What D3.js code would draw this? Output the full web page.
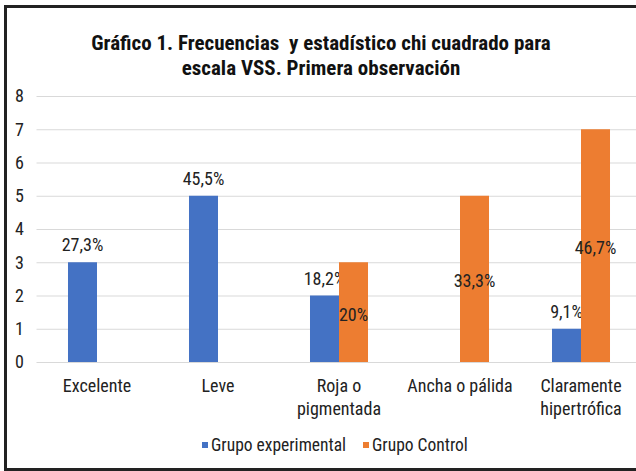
<!DOCTYPE html>
<html>
<head>
<meta charset="utf-8">
<script src="https://cdn.jsdelivr.net/npm/d3@7"></script>
<style>
  body { margin: 0; background: #fff; }
  svg { display: block; font-family: "Liberation Sans Narrow", "Arial Narrow", "Roboto Condensed", sans-serif; }
  .grid line { stroke: #d9d9d9; stroke-width: 1; }
  .tick-label { font-size: 18px; fill: #222; }
  .bar-label { font-size: 18px; fill: #222; }
  .legend-label { font-size: 17.5px; fill: #222; }
</style>
</head>
<body>
<svg id="chart"></svg>
<script>
// data
const categories = [['Excelente'], ['Leve'], ['Roja o', 'pigmentada'], ['Ancha o pálida'], ['Claramente', 'hipertrófica']];
const seriesNames = ['Grupo experimental', 'Grupo Control'];
const experimental = [3, 5, 2, 0, 1];
const control = [0, 0, 3, 5, 7];
const experimentalLabels = ['27,3%', '45,5%', '18,2%', '', '9,1%'];
const controlLabels = ['', '', '20%', '33,3%', '46,7%'];
const yTicks = [0, 1, 2, 3, 4, 5, 6, 7, 8];
const colors = ['#4472C4', '#ED7D31'];

const width = 636, height = 471;
const plot = { left: 36.5, right: 641.5, top: 96, bottom: 362 };

const svg = d3.select('#chart')
    .attr('width', width)
    .attr('height', height);

// chart border (runs off the right edge like the source)
svg.append('rect')
    .attr('x', 5.5)
    .attr('y', 6.5)
    .attr('width', 700)
    .attr('height', 463)
    .attr('fill', 'none')
    .attr('stroke', '#222')
    .attr('stroke-width', 3);

// title
const title = svg.append('text')
    .attr('text-anchor', 'middle')
    .style('font-weight', 'bold')
    .style('font-size', '21px')
    .style('white-space', 'pre')
    .attr('fill', '#111');
title.append('tspan').attr('x', 321).attr('y', 50).text('Gráfico 1. Frecuencias  y estadístico chi cuadrado para');
title.append('tspan').attr('x', 321).attr('y', 75).text('escala VSS. Primera observación');

const catKeys = categories.map(d => d.join(' '));

const xScale = d3.scaleBand()
    .domain(catKeys)
    .range([plot.left, plot.right]);

const xInner = d3.scaleBand()
    .domain(seriesNames)
    .range([0, xScale.bandwidth()])
    .paddingInner(0)
    .paddingOuter(1.086);

const yScale = d3.scaleLinear()
    .domain([0, 8])
    .range([plot.bottom, plot.top]);

// gridlines
svg.append('g')
    .attr('class', 'grid')
    .selectAll('line')
    .data(yTicks)
    .join('line')
    .attr('x1', plot.left)
    .attr('x2', width)
    .attr('y1', d => yScale(d) + 0.5)
    .attr('y2', d => yScale(d) + 0.5);

// y labels
const yAxis = d3.axisLeft(yScale).tickValues(yTicks).tickSize(0).tickPadding(0);
const yAxisG = svg.append('g')
    .attr('transform', 'translate(24,0)')
    .call(yAxis)
    .attr('font-family', null)
    .attr('font-size', null);
yAxisG.select('.domain').remove();
yAxisG.selectAll('text')
    .attr('class', 'tick-label')
    .attr('fill', '#222');

// x labels
const xLab = svg.append('g').selectAll('text')
    .data(categories)
    .join('text')
    .attr('class', 'tick-label')
    .attr('text-anchor', 'middle')
    .attr('x', (d, i) => xScale(catKeys[i]) + xScale.bandwidth() / 2)
    .attr('y', 392);
xLab.selectAll('tspan')
    .data(d => d)
    .join('tspan')
    .attr('x', function() { return d3.select(this.parentNode).attr('x'); })
    .attr('dy', (d, i) => i === 0 ? 0 : 23)
    .text(d => d);

// bars
const seriesData = [experimental, control];
const seriesLabels = [experimentalLabels, controlLabels];

seriesNames.forEach((name, s) => {
  const g = svg.append('g');
  const rows = catKeys.map((c, i) => ({ cat: c, v: seriesData[s][i], label: seriesLabels[s][i] }));
  g.selectAll('rect')
    .data(rows.filter(d => d.v > 0))
    .join('rect')
    .attr('x', d => xScale(d.cat) + xInner(name))
    .attr('width', xInner.bandwidth())
    .attr('y', d => yScale(d.v))
    .attr('height', d => yScale(0) - yScale(d.v))
    .attr('fill', colors[s]);

  g.selectAll('text')
    .data(rows.filter(d => d.label))
    .join('text')
    .attr('class', 'bar-label')
    .attr('text-anchor', 'middle')
    .attr('x', d => xScale(d.cat) + xInner(name) + xInner.bandwidth() / 2)
    // experimental labels sit above the bar, control labels in the middle
    .attr('y', d => s === 0 ? yScale(d.v) - 11 : yScale(d.v / 2) + 8.5)
    .text(d => d.label);
});

// legend
const legend = svg.append('g');
const legendX = [202, 363];
seriesNames.forEach((name, s) => {
  legend.append('rect')
    .attr('x', legendX[s])
    .attr('y', 442)
    .attr('width', 6)
    .attr('height', 6)
    .attr('fill', colors[s]);
  legend.append('text')
    .attr('class', 'legend-label')
    .attr('x', legendX[s] + 9)
    .attr('y', 451)
    .text(name);
});
</script>
</body>
</html>
